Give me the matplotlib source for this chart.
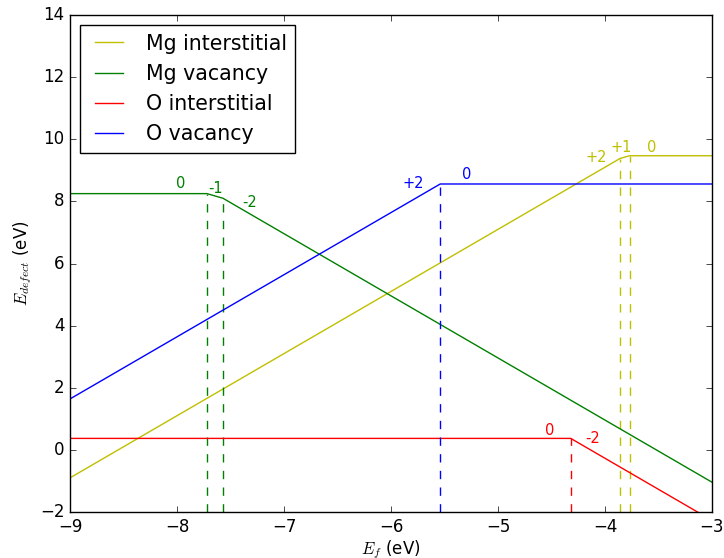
import matplotlib
matplotlib.use('Agg')
import matplotlib.pyplot as plt

plt.style.use('classic')

# piecewise formation energies (eV) vs Fermi level (eV)
mg_int_ef = [-9.0, -3.86, -3.77, -3.0]
mg_int_e = [-0.90, 9.38, 9.47, 9.47]
mg_vac_ef = [-9.0, -7.72, -7.57, -3.0]
mg_vac_e = [8.25, 8.25, 8.10, -1.04]
o_int_ef = [-9.0, -4.32, -3.0]
o_int_e = [0.37, 0.37, -2.27]
o_vac_ef = [-9.0, -5.54, -3.0]
o_vac_e = [1.64, 8.56, 8.56]

# transition levels (index of vertex in each series)
mg_int_tl = [1, 2]
mg_vac_tl = [1, 2]
o_int_tl = [1]
o_vac_tl = [1]

# charge state labels: (Ef, E, text)
mg_int_q = [(-4.08, 9.40, '+2'), (-3.85, 9.75, '+1'), (-3.56, 9.75, '0')]
mg_vac_q = [(-7.97, 8.56, '0'), (-7.64, 8.43, '-1'), (-7.32, 7.98, '-2')]
o_int_q = [(-4.52, 0.64, '0'), (-4.12, 0.38, '-2')]
o_vac_q = [(-5.79, 8.56, '+2'), (-5.29, 8.85, '0')]

fig, ax = plt.subplots(figsize=(7.24, 5.58), dpi=100)
fig.subplots_adjust(left=0.0967, right=0.9834, top=0.9731, bottom=0.0824)

series = [
    ('Mg interstitial', 'y', mg_int_ef, mg_int_e, mg_int_tl, mg_int_q),
    ('Mg vacancy', 'g', mg_vac_ef, mg_vac_e, mg_vac_tl, mg_vac_q),
    ('O interstitial', 'r', o_int_ef, o_int_e, o_int_tl, o_int_q),
    ('O vacancy', 'b', o_vac_ef, o_vac_e, o_vac_tl, o_vac_q),
]

ymin = -2
for name, c, ef, e, tl, qs in series:
    ax.plot(ef, e, color=c, label=name)
    for i in tl:
        ax.plot([ef[i], ef[i]], [ymin, e[i]], color=c, linestyle='--')
    for x, y, t in qs:
        ax.text(x, y, t, color=c, fontsize=10.5, ha='center', va='center')

ax.set_xlim(-9, -3)
ax.set_ylim(-2, 14)
ax.set_xlabel('$E_f$ (eV)', labelpad=2)
ax.set_ylabel('$E_{defect}$ (eV)', labelpad=4)
ax.legend(loc='upper left', prop={'size': 14.8})

fig.savefig('out.png', dpi=100)
